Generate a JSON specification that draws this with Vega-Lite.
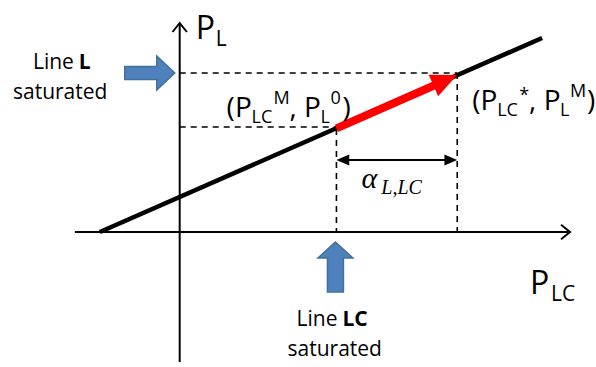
{
  "$schema": "https://vega.github.io/schema/vega-lite/v6.json",
  "width": 596,
  "height": 367,
  "autosize": {"type": "fit", "contains": "padding"},
  "padding": 0,
  "background": "white",
  "config": {"view": {"stroke": null}},
  "datasets": {
    "axes": [{"x": 75, "y": 232, "x2": 570, "y2": 232}, {"x": 180, "y": 362, "x2": 180, "y2": 24}],
    "dashed": [
      {"x": 180, "y": 73, "x2": 458, "y2": 73},
      {"x": 458, "y": 73, "x2": 458, "y2": 232},
      {"x": 180, "y": 127, "x2": 337, "y2": 127},
      {"x": 337, "y": 129, "x2": 337, "y2": 232}
    ],
    "line": [{"x": 100, "y": 232, "x2": 543, "y2": 38}],
    "red": [{"x": 337, "y": 128.4, "x2": 437, "y2": 84.5}],
    "redhead": [{"x": 458, "y": 75}],
    "dbl": [{"x": 341, "y": 160, "x2": 454, "y2": 160}],
    "dblR": [{"x": 458, "y": 160}],
    "dblL": [{"x": 337, "y": 160}],
    "chevUp": [{"x": 180, "y": 23}],
    "chevRight": [{"x": 571, "y": 232}],
    "blueR": [{"x": 150, "y": 73}],
    "blueU": [{"x": 336, "y": 267}],
    "title": [
      {"x": 196, "y": 39, "t": "P"},
      {"x": 531, "y": 294, "t": "P"}
    ],
    "titlesub": [
      {"x": 216, "y": 46, "t": "L"},
      {"x": 552, "y": 301, "t": "LC"}
    ],
    "big": [
      {"x": 227, "y": 117, "t": "(P"},
      {"x": 290, "y": 117, "t": ", P"},
      {"x": 343, "y": 117, "t": ")"},
      {"x": 473, "y": 110, "t": "(P"},
      {"x": 530, "y": 110, "t": ", P"},
      {"x": 588, "y": 110, "t": ")"}
    ],
    "small": [
      {"x": 252, "y": 123, "t": "LC"},
      {"x": 274, "y": 104, "t": "M"},
      {"x": 321, "y": 123, "t": "L"},
      {"x": 331, "y": 104, "t": "0"},
      {"x": 498, "y": 116, "t": "LC"},
      {"x": 520, "y": 101, "t": "*"},
      {"x": 561, "y": 116, "t": "L"},
      {"x": 571, "y": 97, "t": "M"}
    ],
    "lblR": [
      {"x": 74, "y": 69, "t": "Line"},
      {"x": 338, "y": 326, "t": "Line"}
    ],
    "lbl": [
      {"x": 13, "y": 99, "t": "saturated"},
      {"x": 288, "y": 356, "t": "saturated"}
    ],
    "lblb": [
      {"x": 79, "y": 69, "t": "L"},
      {"x": 343, "y": 326, "t": "LC"}
    ],
    "alpha": [{"x": 362, "y": 188, "t": "α"}],
    "alphasub": [{"x": 382, "y": 194, "t": "L,LC"}]
  },
  "encoding": {
    "x": {"field": "x", "type": "quantitative", "scale": {"domain": [0, 596], "nice": false, "zero": false}, "axis": null},
    "y": {"field": "y", "type": "quantitative", "scale": {"domain": [0, 367], "reverse": true, "nice": false, "zero": false}, "axis": null}
  },
  "layer": [
    {"data": {"name": "axes"}, "mark": {"type": "rule", "color": "black", "strokeWidth": 2},
     "encoding": {"x2": {"field": "x2"}, "y2": {"field": "y2"}}},
    {"data": {"name": "dashed"}, "mark": {"type": "rule", "color": "black", "strokeWidth": 1.6, "strokeDash": [6, 5]},
     "encoding": {"x2": {"field": "x2"}, "y2": {"field": "y2"}}},
    {"data": {"name": "line"}, "mark": {"type": "rule", "color": "black", "strokeWidth": 4.5},
     "encoding": {"x2": {"field": "x2"}, "y2": {"field": "y2"}}},
    {"data": {"name": "red"}, "mark": {"type": "rule", "color": "#ff0000", "strokeWidth": 8},
     "encoding": {"x2": {"field": "x2"}, "y2": {"field": "y2"}}},
    {"data": {"name": "redhead"}, "mark": {"type": "point", "shape": "M0,0L-2,-0.9L-2,0.9Z", "size": 676, "filled": true, "color": "#ff0000", "opacity": 1, "angle": -23.66}},
    {"data": {"name": "dbl"}, "mark": {"type": "rule", "color": "black", "strokeWidth": 2},
     "encoding": {"x2": {"field": "x2"}, "y2": {"field": "y2"}}},
    {"data": {"name": "dblR"}, "mark": {"type": "point", "shape": "M0,0L-1.6,-0.7L-1.6,0.7Z", "size": 256, "filled": true, "color": "black", "opacity": 1}},
    {"data": {"name": "dblL"}, "mark": {"type": "point", "shape": "M0,0L1.6,-0.7L1.6,0.7Z", "size": 256, "filled": true, "color": "black", "opacity": 1}},
    {"data": {"name": "chevUp"}, "mark": {"type": "point", "shape": "M-0.8,1L0,0L0.8,1", "size": 324, "filled": false, "color": "black", "strokeWidth": 2, "opacity": 1}},
    {"data": {"name": "chevRight"}, "mark": {"type": "point", "shape": "M-1,-0.8L0,0L-1,0.8", "size": 324, "filled": false, "color": "black", "strokeWidth": 2, "opacity": 1}},
    {"data": {"name": "blueR"}, "mark": {"type": "point", "shape": "M-1,-0.26L0.28,-0.26L0.28,-0.68L1,0L0.28,0.68L0.28,0.26L-1,0.26Z", "size": 2500, "filled": true, "fill": "#4f81bd", "stroke": "#41719c", "strokeWidth": 1.5, "opacity": 1}},
    {"data": {"name": "blueU"}, "mark": {"type": "point", "shape": "M0,-1L0.7,-0.36L0.32,-0.36L0.32,1L-0.32,1L-0.32,-0.36L-0.7,-0.36Z", "size": 2500, "filled": true, "fill": "#4f81bd", "stroke": "#41719c", "strokeWidth": 1.5, "opacity": 1}},
    {"data": {"name": "title"}, "mark": {"type": "text", "font": "Open Sans", "fontSize": 32, "align": "left", "baseline": "alphabetic", "color": "black"},
     "encoding": {"text": {"field": "t"}}},
    {"data": {"name": "titlesub"}, "mark": {"type": "text", "font": "Open Sans", "fontSize": 21, "align": "left", "baseline": "alphabetic", "color": "black"},
     "encoding": {"text": {"field": "t"}}},
    {"data": {"name": "big"}, "mark": {"type": "text", "font": "Open Sans", "fontSize": 28, "align": "left", "baseline": "alphabetic", "color": "black"},
     "encoding": {"text": {"field": "t"}}},
    {"data": {"name": "small"}, "mark": {"type": "text", "font": "Open Sans", "fontSize": 18, "align": "left", "baseline": "alphabetic", "color": "black"},
     "encoding": {"text": {"field": "t"}}},
    {"data": {"name": "lblR"}, "mark": {"type": "text", "font": "Open Sans", "fontSize": 21, "align": "right", "baseline": "alphabetic", "color": "black"},
     "encoding": {"text": {"field": "t"}}},
    {"data": {"name": "lbl"}, "mark": {"type": "text", "font": "Open Sans", "fontSize": 21, "align": "left", "baseline": "alphabetic", "color": "black"},
     "encoding": {"text": {"field": "t"}}},
    {"data": {"name": "lblb"}, "mark": {"type": "text", "font": "Open Sans", "fontSize": 21, "fontWeight": "bold", "align": "left", "baseline": "alphabetic", "color": "black"},
     "encoding": {"text": {"field": "t"}}},
    {"data": {"name": "alpha"}, "mark": {"type": "text", "font": "Liberation Serif", "fontSize": 30, "fontStyle": "italic", "align": "left", "baseline": "alphabetic", "color": "black"},
     "encoding": {"text": {"field": "t"}}},
    {"data": {"name": "alphasub"}, "mark": {"type": "text", "font": "Liberation Serif", "fontSize": 20, "fontStyle": "italic", "align": "left", "baseline": "alphabetic", "color": "black"},
     "encoding": {"text": {"field": "t"}}}
  ]
}
